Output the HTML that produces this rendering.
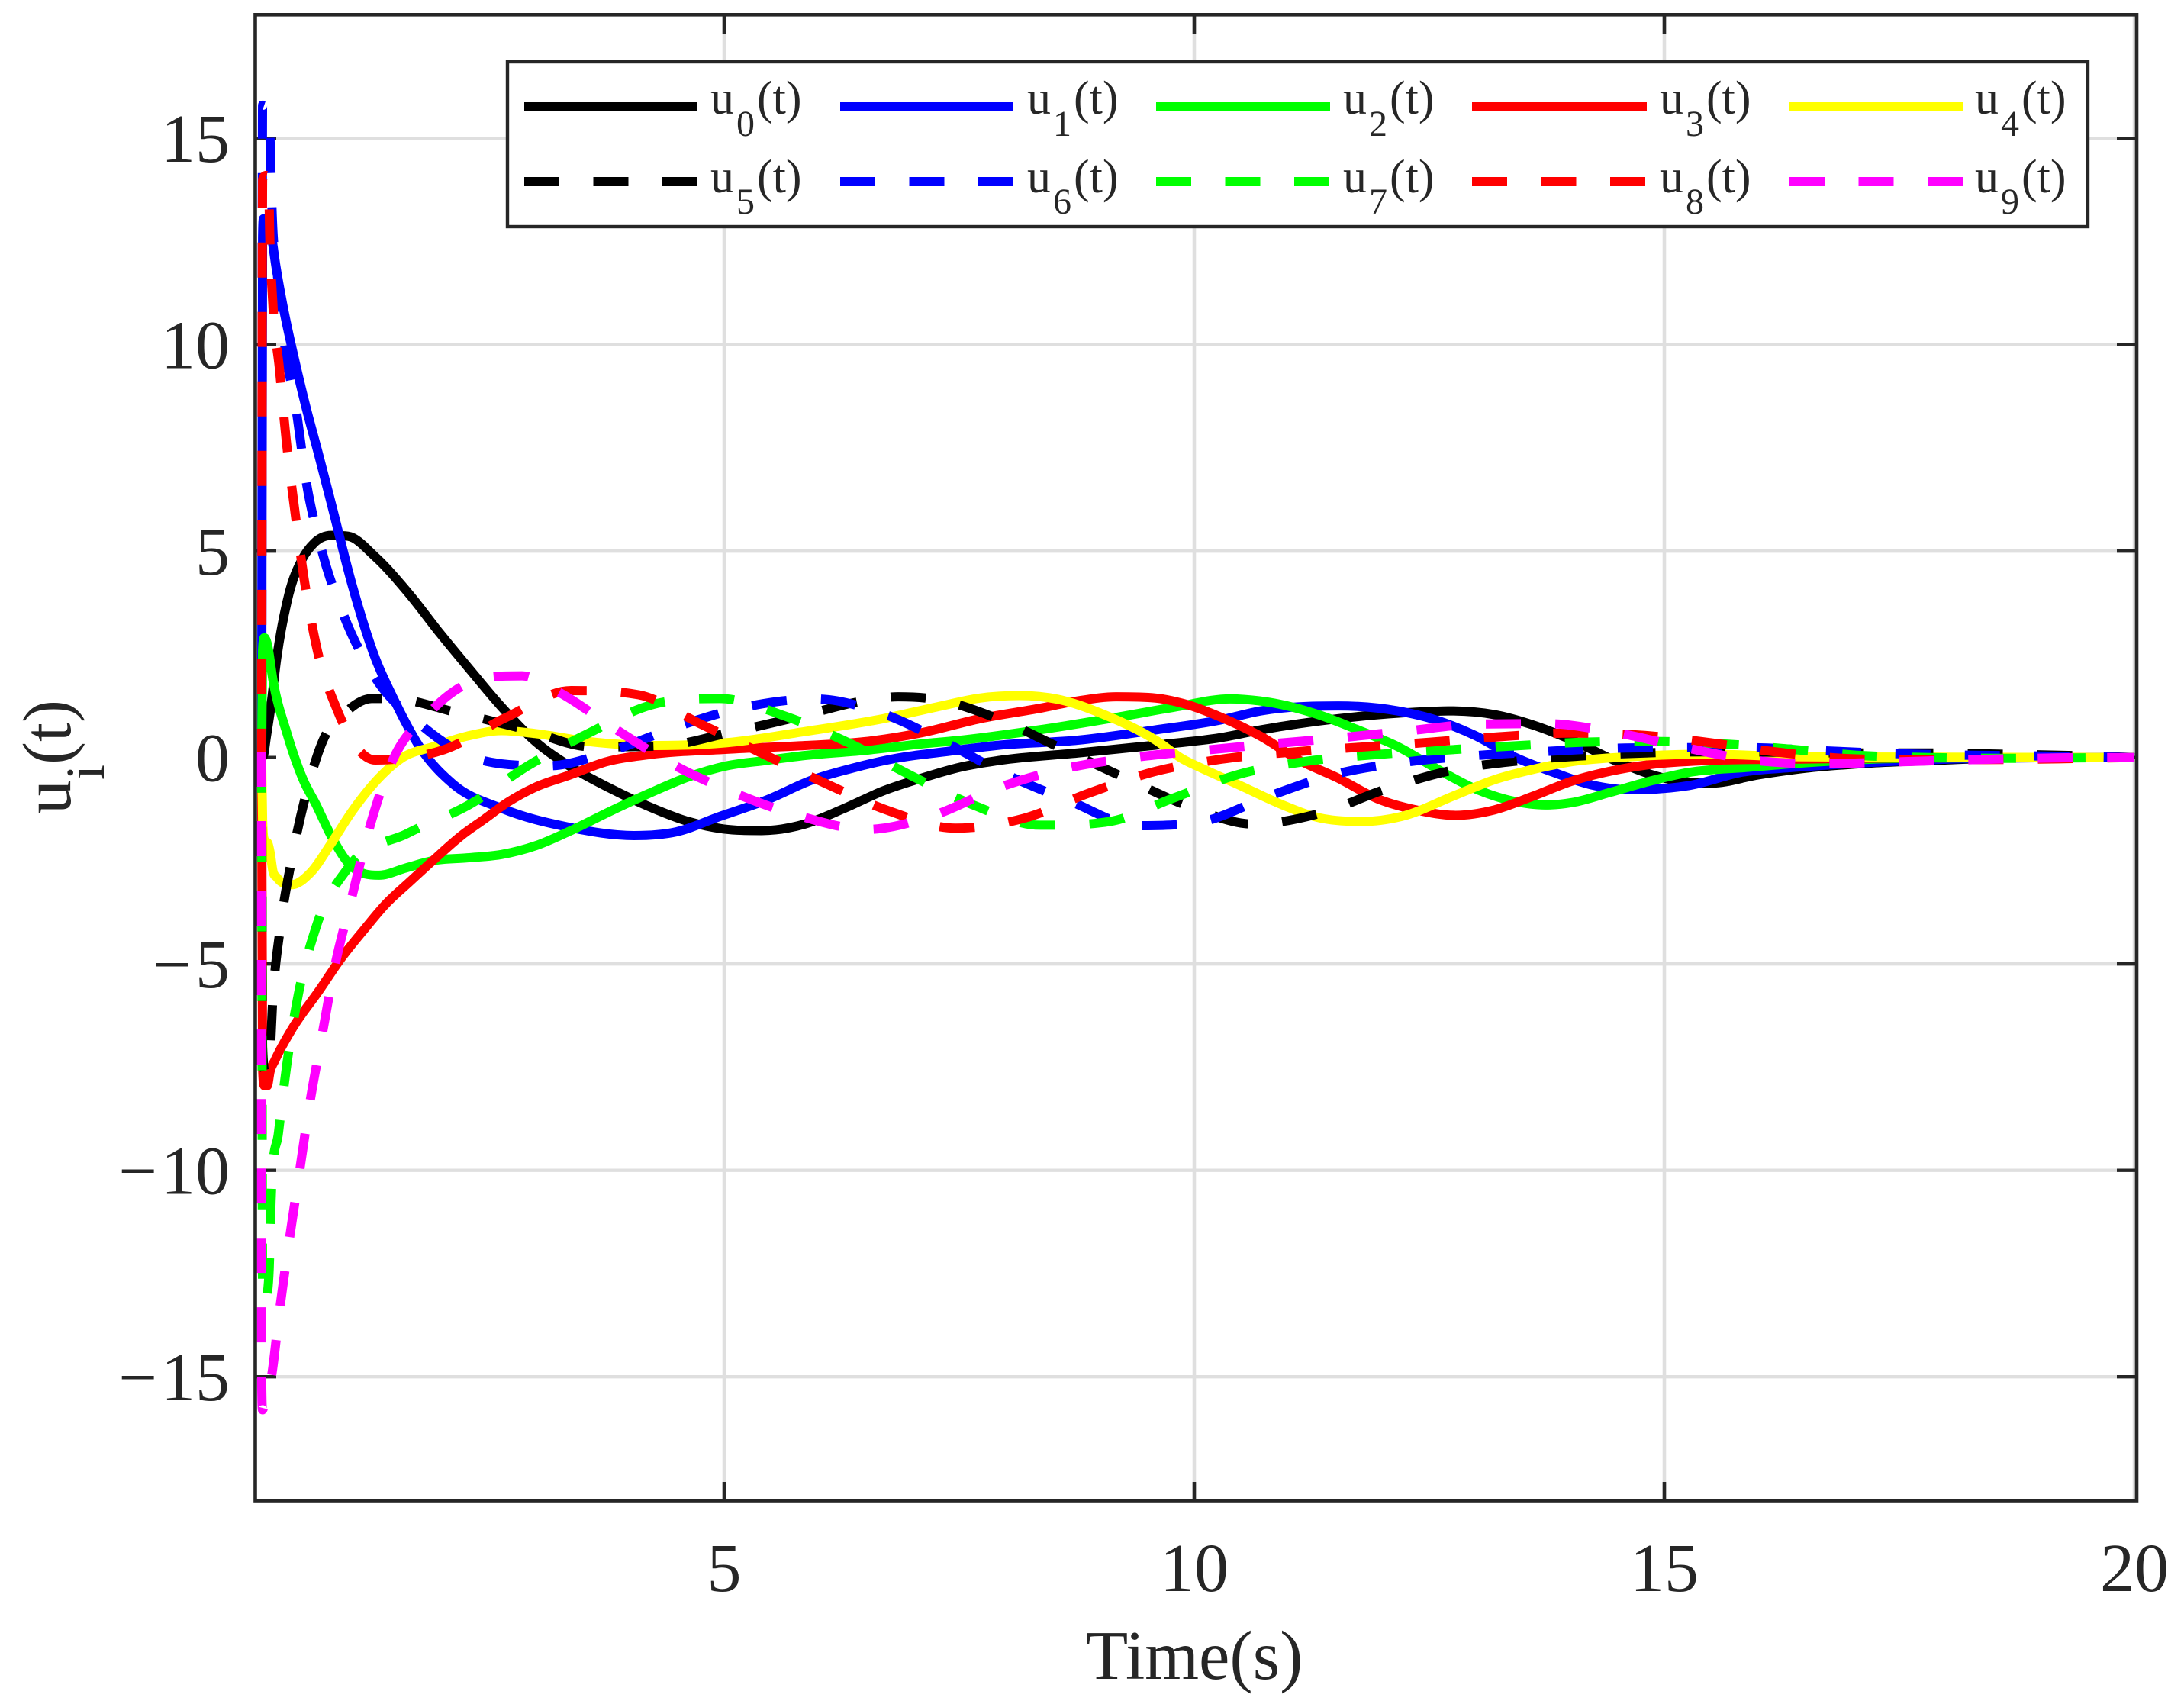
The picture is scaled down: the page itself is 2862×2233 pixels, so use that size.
<!DOCTYPE html>
<html lang="en">
<head>
<meta charset="utf-8">
<title>Control inputs u_i(t) versus time</title>
<style>
html,body{margin:0;padding:0;background:#fff;}
svg{display:block;}
text{font-family:"Liberation Serif",serif;fill:#262626;}
</style>
</head>
<body>
<svg id="chart" xmlns="http://www.w3.org/2000/svg" width="2862" height="2233" viewBox="0 0 2862 2233">
  <rect x="0" y="0" width="2862" height="2233" fill="#ffffff"/>
  <g id="grid"></g>
  <g id="ticks"></g>
  <g id="series"></g>
  <rect x="334.5" y="19.3" width="2465.5" height="1947.2" fill="none" stroke="#262626" stroke-width="4.6"/>
  <g id="tick-labels"></g>

  <text x="1565" y="2200" font-size="91" text-anchor="middle">Time(s)</text>
  <text transform="translate(92,1067) rotate(-90)" font-size="90">u<tspan font-size="72" dy="44">i</tspan><tspan dy="-44">(t)</tspan></text>

  <g>
    <rect x="665" y="81" width="2071" height="216" fill="#ffffff" stroke="#262626" stroke-width="4.4"/>

    <g>
      <line x1="687" y1="140" x2="914" y2="140" stroke="#000000" stroke-width="12"/>
      <text y="149" font-size="62"><tspan x="931">u</tspan><tspan x="965" dy="29" font-size="48">0</tspan><tspan x="992" dy="-29">(t)</tspan></text>
    </g>
    <g>
      <line x1="1101" y1="140" x2="1328" y2="140" stroke="#0000ff" stroke-width="12"/>
      <text y="149" font-size="62"><tspan x="1346">u</tspan><tspan x="1380" dy="29" font-size="48">1</tspan><tspan x="1407" dy="-29">(t)</tspan></text>
    </g>
    <g>
      <line x1="1515" y1="140" x2="1743" y2="140" stroke="#00ff00" stroke-width="12"/>
      <text y="149" font-size="62"><tspan x="1760">u</tspan><tspan x="1794" dy="29" font-size="48">2</tspan><tspan x="1821" dy="-29">(t)</tspan></text>
    </g>
    <g>
      <line x1="1929" y1="140" x2="2158" y2="140" stroke="#ff0000" stroke-width="12"/>
      <text y="149" font-size="62"><tspan x="2175">u</tspan><tspan x="2209" dy="29" font-size="48">3</tspan><tspan x="2236" dy="-29">(t)</tspan></text>
    </g>
    <g>
      <line x1="2345" y1="140" x2="2572" y2="140" stroke="#ffff00" stroke-width="12"/>
      <text y="149" font-size="62"><tspan x="2588">u</tspan><tspan x="2622" dy="29" font-size="48">4</tspan><tspan x="2649" dy="-29">(t)</tspan></text>
    </g>

    <g>
      <line x1="687" y1="238" x2="914" y2="238" stroke="#000000" stroke-width="12" stroke-dasharray="46 44.5"/>
      <text y="252" font-size="62"><tspan x="931">u</tspan><tspan x="965" dy="28" font-size="48">5</tspan><tspan x="992" dy="-28">(t)</tspan></text>
    </g>
    <g>
      <line x1="1101" y1="238" x2="1328" y2="238" stroke="#0000ff" stroke-width="12" stroke-dasharray="46 44.5"/>
      <text y="252" font-size="62"><tspan x="1346">u</tspan><tspan x="1380" dy="28" font-size="48">6</tspan><tspan x="1407" dy="-28">(t)</tspan></text>
    </g>
    <g>
      <line x1="1515" y1="238" x2="1743" y2="238" stroke="#00ff00" stroke-width="12" stroke-dasharray="46 44.5"/>
      <text y="252" font-size="62"><tspan x="1760">u</tspan><tspan x="1794" dy="28" font-size="48">7</tspan><tspan x="1821" dy="-28">(t)</tspan></text>
    </g>
    <g>
      <line x1="1929" y1="238" x2="2158" y2="238" stroke="#ff0000" stroke-width="12" stroke-dasharray="46 44.5"/>
      <text y="252" font-size="62"><tspan x="2175">u</tspan><tspan x="2209" dy="28" font-size="48">8</tspan><tspan x="2236" dy="-28">(t)</tspan></text>
    </g>
    <g>
      <line x1="2345" y1="238" x2="2572" y2="238" stroke="#ff00ff" stroke-width="12" stroke-dasharray="46 44.5"/>
      <text y="252" font-size="62"><tspan x="2588">u</tspan><tspan x="2622" dy="28" font-size="48">9</tspan><tspan x="2649" dy="-28">(t)</tspan></text>
    </g>
  </g>
</svg>

<script>
// Chart data: tick values and [time, value] readings for each series.
const xTickValues = [5, 10, 15, 20];
const yTickValues = [15, 10, 5, 0, -5, -10, -15];

const u0 = [[.08,0],[.1,.05],[.13,.5],[.17,1.1],[.24,2.4],[.37,3.96],[.51,4.8],[.64,5.2],[.82,5.38],[1.0,5.36],[1.29,4.86],[1.65,3.96],[1.98,3.0],[2.27,2.2],[2.63,1.23],[2.99,.39],[3.35,-.2],[3.79,-.75],[4.16,-1.15],[4.62,-1.55],[4.99,-1.73],[5.4,-1.77],[5.86,-1.61],[6.27,-1.24],[6.69,-.81],[7.1,-.5],[7.52,-.23],[7.93,-.07],[8.76,.11],[9.59,.3],[10.28,.48],[10.71,.67],[11.53,.94],[12.36,1.1],[12.7,1.13],[13.19,1.04],[13.6,.79],[14.02,.42],[14.5,-.1],[15,-.5],[15.5,-.62],[16,-.42],[16.5,-.26],[17.2,-.135],[17.9,-.07],[18.6,-.01],[20,0]];
const u1 = [[.08,0],[.09,12.6],[.1,13.05],[.13,13.05],[.179,12.7],[.233,11.88],[.306,10.95],[.422,9.72],[.55,8.5],[.68,7.39],[.82,6.16],[1.04,4.2],[1.29,2.4],[1.47,1.49],[1.76,.26],[2.12,-.65],[2.63,-1.23],[3.35,-1.69],[4.04,-1.89],[4.49,-1.8],[4.95,-1.43],[5.45,-1.03],[5.94,-.54],[6.36,-.26],[6.85,-.01],[7.35,.14],[7.93,.3],[8.76,.42],[9.59,.67],[10.28,.91],[10.71,1.13],[11.53,1.25],[12.16,1.13],[12.57,.91],[12.98,.54],[13.4,.02],[13.81,-.35],[14.22,-.66],[14.64,-.78],[15.26,-.68],[15.84,-.35],[16.37,-.24],[17.2,-.12],[18.6,-.01],[20,0]];
const u2 = [[.08,0],[.09,2.6],[.11,2.9],[.14,2.75],[.2,1.88],[.35,.58],[.53,-.58],[.65,-1.1],[.82,-1.9],[1.0,-2.55],[1.18,-2.82],[1.33,-2.85],[1.62,-2.67],[1.9,-2.5],[2.27,-2.43],[2.63,-2.35],[2.99,-2.14],[3.35,-1.79],[3.79,-1.3],[4.2,-.87],[4.62,-.47],[5.03,-.2],[5.45,-.07],[5.86,.05],[6.48,.17],[7.1,.33],[7.52,.42],[8.35,.67],[9.17,.97],[9.79,1.22],[10.38,1.42],[10.79,1.34],[11.33,1.03],[11.74,.67],[12.16,.27],[12.57,-.26],[12.98,-.75],[13.4,-1.06],[13.73,-1.15],[14.02,-1.09],[14.43,-.84],[14.85,-.57],[15.26,-.36],[15.88,-.24],[16.45,-.135],[17.2,-.04],[18,-.01],[20,0]];
const u3 = [[.08,0],[.09,-7.5],[.11,-7.95],[.14,-7.95],[.17,-7.6],[.22,-7.34],[.41,-6.55],[.68,-5.68],[.93,-4.85],[1.18,-4.14],[1.4,-3.55],[1.65,-3.02],[1.9,-2.5],[2.2,-1.9],[2.45,-1.49],[2.7,-1.08],[2.99,-.72],[3.35,-.43],[3.75,-.1],[4.2,.07],[5.03,.2],[5.86,.29],[6.48,.38],[7.1,.6],[7.72,.94],[8.35,1.19],[8.76,1.37],[9.17,1.47],[9.59,1.44],[9.88,1.31],[10.29,.97],[10.71,.51],[11.12,-.07],[11.53,-.5],[11.95,-1.0],[12.36,-1.27],[12.78,-1.4],[13.19,-1.27],[13.6,-.94],[14.02,-.57],[14.43,-.33],[14.85,-.17],[15.49,-.07],[16.37,-.04],[17.5,-.01],[20,0]];
const u4 = [[.08,0],[.09,-1.5],[.11,-2.0],[.15,-2.1],[.17,-2.3],[.2,-2.75],[.24,-2.9],[.4,-3.08],[.6,-2.79],[.82,-2.08],[1.04,-1.31],[1.33,-.49],[1.58,0],[1.9,.26],[2.27,.52],[2.63,.65],[2.99,.58],[3.54,.39],[4.26,.29],[5.03,.36],[5.86,.63],[6.69,.94],[7.31,1.25],[7.72,1.44],[8.14,1.5],[8.55,1.41],[9.05,1.03],[9.59,.42],[9.88,-.04],[10.08,-.26],[10.5,-.69],[10.91,-1.12],[11.33,-1.46],[11.78,-1.55],[12.2,-1.43],[12.78,-.91],[13.19,-.54],[13.6,-.29],[14.02,-.1],[14.64,.02],[15.47,.08],[16.37,.02],[17.5,.01],[20,0]];
const u5 = [[.08,0],[.09,-7.0],[.12,-7.6],[.16,-7.45],[.2,-5.8],[.28,-4.1],[.4,-2.46],[.56,-.82],[.76,.55],[.93,1.0],[1.25,1.43],[1.45,1.43],[2.17,1.08],[2.87,.69],[3.59,.26],[4.33,.28],[5.05,.6],[5.76,.97],[6.48,1.37],[6.85,1.47],[7.22,1.42],[7.92,.93],[8.55,.26],[9.24,-.47],[9.94,-1.18],[10.62,-1.61],[11.34,-1.35],[12.03,-.77],[12.74,-.31],[13.46,-.08],[14.2,.05],[14.93,.12],[15.65,.14],[16.9,.11],[17.82,.11],[18.6,.08],[19.3,.05],[20,0]];
const u6 = [[.08,-.15],[.09,15.8],[.13,15.75],[.16,15.6],[.175,14.5],[.19,13.3],[.245,11.76],[.32,10.09],[.45,8.38],[.55,6.74],[.71,5.1],[.95,3.46],[1.27,2.0],[1.78,.78],[2.41,-.06],[3.13,-.2],[3.84,.19],[4.54,.78],[5.24,1.23],[5.97,1.42],[6.69,1.06],[7.33,.39],[8.0,-.41],[8.68,-1.06],[9.4,-1.65],[10.09,-1.55],[10.79,-.94],[11.49,-.41],[12.22,-.12],[12.95,.04],[13.69,.14],[14.42,.22],[15.15,.24],[15.9,.24],[16.62,.17],[17.38,.1],[18.1,.06],[18.9,.04],[20,0]];
const u7 = [[.08,0],[.09,-12.8],[.11,-13.2],[.14,-13],[.16,-12.4],[.18,-10.75],[.26,-9.07],[.35,-7.4],[.47,-5.74],[.66,-4.1],[1.0,-2.67],[1.63,-1.84],[2.29,-1.14],[2.92,-.19],[3.55,.58],[4.22,1.27],[4.95,1.43],[5.65,1.0],[6.32,.36],[6.99,-.44],[7.65,-1.15],[8.36,-1.64],[9.1,-1.55],[9.78,-.98],[10.47,-.41],[11.2,-.09],[11.93,.07],[12.67,.18],[13.4,.28],[14.13,.37],[14.87,.39],[15.63,.33],[16.35,.2],[17.09,.05],[17.82,0],[18.6,-.02],[19.3,-.01],[20,0]];
const u8 = [[.08,-.15],[.09,14.0],[.13,14.1],[.155,13.9],[.165,12.75],[.197,11.08],[.27,9.4],[.34,7.72],[.43,6.03],[.53,4.35],[.66,2.72],[.88,1.17],[1.29,-.06],[1.6,-.02],[2.02,.19],[2.68,.97],[3.37,1.62],[4.09,1.52],[4.75,.81],[5.43,.07],[6.08,-.63],[6.75,-1.29],[7.46,-1.71],[8.19,-1.47],[8.87,-.87],[9.58,-.34],[10.29,-.04],[11.03,.13],[11.76,.25],[12.5,.37],[13.23,.5],[13.98,.59],[14.76,.54],[15.45,.37],[16.17,.14],[16.9,-.02],[17.65,-.05],[18.42,-.05],[19.2,-.03],[20,0]];
const u9 = [[.075,.14],[.08,-15],[.09,-15.8],[.12,-15.5],[.18,-15.05],[.27,-13.4],[.37,-11.75],[.48,-10.07],[.59,-8.4],[.72,-6.76],[.855,-5.09],[1.03,-3.47],[1.21,-1.84],[1.45,-.19],[1.87,1.1],[2.5,1.95],[2.85,1.98],[3.21,1.62],[3.83,.71],[4.44,-.15],[5.1,-.85],[5.81,-1.42],[6.52,-1.74],[7.24,-1.39],[7.92,-.73],[8.62,-.27],[9.35,0],[10.08,.17],[10.82,.33],[11.56,.48],[12.29,.65],[13.02,.81],[13.76,.82],[14.49,.6],[15.24,.23],[15.93,-.06],[16.66,-.15],[17.4,-.11],[18.14,-.06],[18.88,-.02],[19.62,0],[20,0]];

const seriesNames = ['u0','u1','u2','u3','u4','u5','u6','u7','u8','u9'];
const seriesData = [u0,u1,u2,u3,u4,u5,u6,u7,u8,u9];

// Axis functions
function xScale(t){ return 333 + 123.2 * t; }
function yScale(v){ return 992.7 - 54.1 * v; }

const NS = 'http://www.w3.org/2000/svg';
const seriesColors = ['#000000','#0000ff','#00ff00','#ff0000','#ffff00','#000000','#0000ff','#00ff00','#ff0000','#ff00ff'];

function smoothPath(pts){
  const n = pts.length;
  const px = pts.map(function(p){ return xScale(p[0]); });
  const py = pts.map(function(p){ return yScale(p[1]); });
  const h = [], s = [], m = new Array(n);
  for (let i = 0; i < n - 1; i++) {
    h[i] = Math.max(px[i+1] - px[i], 1e-6);
    s[i] = (py[i+1] - py[i]) / h[i];
  }
  m[0] = s[0];
  m[n-1] = s[n-2];
  for (let i = 1; i < n - 1; i++) {
    if (s[i-1] * s[i] <= 0) {
      m[i] = 0;
    } else {
      const p = (h[i]*s[i-1] + h[i-1]*s[i]) / (h[i-1] + h[i]);
      const limit = 3 * Math.min(Math.abs(s[i-1]), Math.abs(s[i]));
      m[i] = Math.sign(p) * Math.min(Math.abs(p), limit);
    }
  }
  let d = 'M' + px[0].toFixed(2) + ' ' + py[0].toFixed(2);
  for (let i = 0; i < n - 1; i++) {
    const dx = h[i] / 3;
    d += 'C' + (px[i]+dx).toFixed(2) + ' ' + (py[i]+m[i]*dx).toFixed(2) + ' ' +
         (px[i+1]-dx).toFixed(2) + ' ' + (py[i+1]-m[i+1]*dx).toFixed(2) + ' ' +
         px[i+1].toFixed(2) + ' ' + py[i+1].toFixed(2);
  }
  return d;
}

const gridLayer = document.getElementById('grid');
const tickLayer = document.getElementById('ticks');
const labelLayer = document.getElementById('tick-labels');
const seriesLayer = document.getElementById('series');

function addLine(parent, x1, y1, x2, y2, color, width){
  const el = document.createElementNS(NS, 'line');
  el.setAttribute('x1', x1);
  el.setAttribute('y1', y1);
  el.setAttribute('x2', x2);
  el.setAttribute('y2', y2);
  el.setAttribute('stroke', color);
  el.setAttribute('stroke-width', width);
  parent.appendChild(el);
  return el;
}

xTickValues.forEach(function(v){
  const x = xScale(v);
  const g = addLine(gridLayer, x, 19.3, x, 1966.5, '#dfdfdf', 4.6);
  
  
  if (v < 20) {
    const b = addLine(tickLayer, x, 1966.5, x, 1942, '#262626', 4.6);
    
    
    const t = addLine(tickLayer, x, 19.3, x, 44, '#262626', 4.6);
    
    
  }
  const label = document.createElementNS(NS, 'text');
  
  
  label.setAttribute('x', x);
  label.setAttribute('y', 2085);
  label.setAttribute('font-size', 90);
  label.setAttribute('text-anchor', 'middle');
  label.textContent = String(v);
  labelLayer.appendChild(label);
});

yTickValues.forEach(function(v){
  const y = yScale(v);
  if (v !== 0) {
    const g = addLine(gridLayer, 334.5, y, 2800, y, '#dfdfdf', 4.4);
    
    
  }
  const l = addLine(tickLayer, 334.5, y, 362, y, '#262626', 4.4);
  
  
  const r = addLine(tickLayer, 2800, y, 2774, y, '#262626', 4.4);
  
  
  const label = document.createElementNS(NS, 'text');
  
  
  label.setAttribute('x', 301);
  label.setAttribute('y', y + 31);
  label.setAttribute('font-size', 90);
  label.setAttribute('text-anchor', 'end');
  if (v < 0) {
    const minus = document.createElementNS(NS, 'tspan');
    minus.setAttribute('letter-spacing', '5');
    minus.textContent = '\u2212';
    label.appendChild(minus);
  }
  label.appendChild(document.createTextNode(String(Math.abs(v))));
  labelLayer.appendChild(label);
});

seriesData.forEach(function(pts, i){
  const path = document.createElementNS(NS, 'path');
  
  
  path.setAttribute('d', smoothPath(pts));
  path.setAttribute('fill', 'none');
  path.setAttribute('stroke', seriesColors[i]);
  path.setAttribute('stroke-width', 12);
  path.setAttribute('stroke-linejoin', 'round');
  path.setAttribute('stroke-linecap', 'butt');
  if (i >= 5) path.setAttribute('stroke-dasharray', '46 45');
  seriesLayer.appendChild(path);
});
</script>
</body>
</html>
